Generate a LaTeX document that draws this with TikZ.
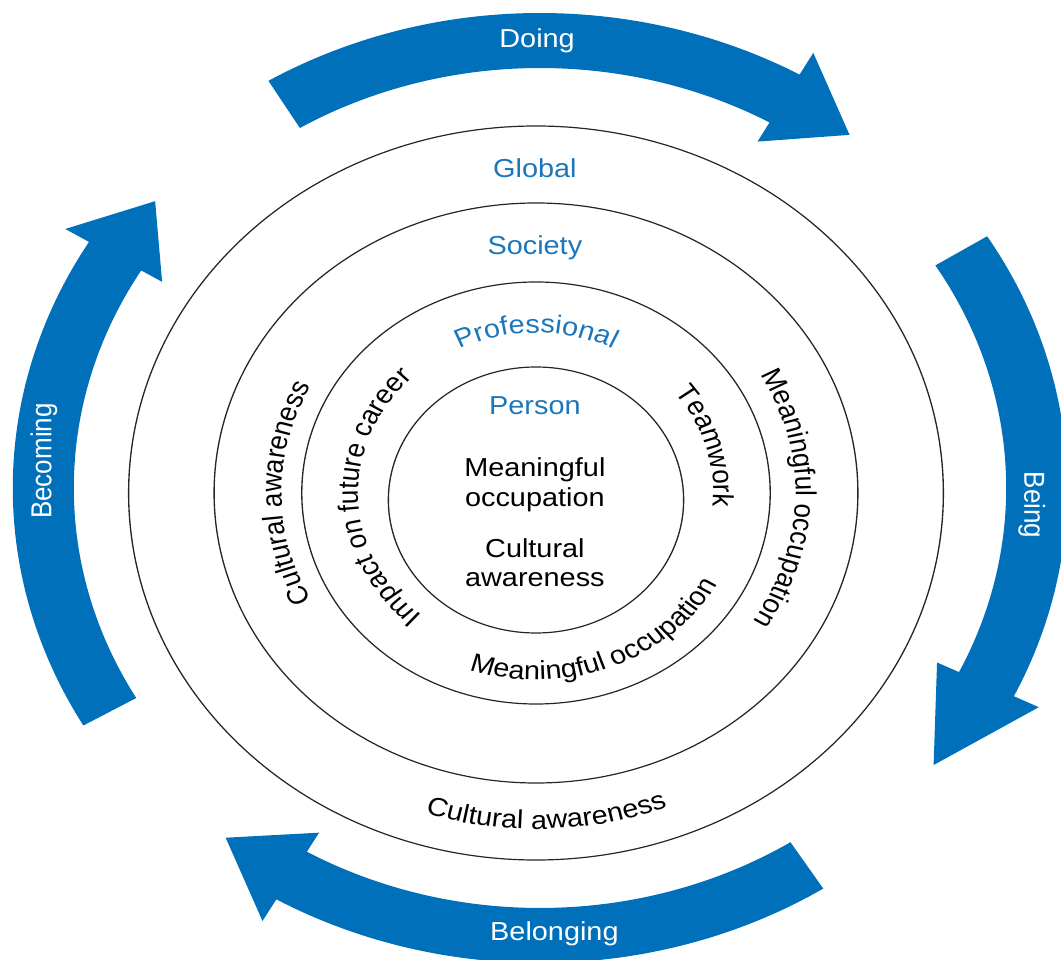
\documentclass[tikz,border=0pt]{standalone}
\usepackage{fontspec}
\setmainfont{Liberation Sans}
\usetikzlibrary{decorations.text}

\definecolor{bandblue}{RGB}{0,112,186}
\definecolor{ringblue}{RGB}{28,118,186}
\newcommand\labelsize{\fontsize{26}{30}\selectfont}

\begin{document}
\begin{tikzpicture}[x=1pt,y=1pt,
  ring/.style={draw=black!85, line width=1.2pt},
  band/.style={fill=bandblue},
  bandlabel/.style={text=white, font=\labelsize, inner sep=0pt},
  levellabel/.style={text=ringblue, font=\labelsize, inner sep=0pt},
  plainlabel/.style={text=black, font=\labelsize, inner sep=0pt},
  curved/.style={decorate, decoration={text along path, text align=center, text={#1}}}
]
\useasboundingbox (-536,-467) rectangle (525,493);
\clip (-536,-467) rectangle (525,493);

\begin{scope}[transform canvas={xscale=1.11}]
  % concentric levels
  \draw[ring] (0,0) circle[radius=367];
  \draw[ring] (0,0) circle[radius=290];
  \draw[ring] (0,0) circle[radius=211];
  \draw[ring] (0,-7) circle[radius=133];

  % four curved cycle arrows: tail angle / head base angle / tip angle
  \begin{scope}[shift={(3.6,5)}]
    \foreach \t/\b/\p in {121/60.5/51.7, 32/-26/-38, -57.5/-120/-129, 210/148.8/140.4}{
      \fill[band] (\t:475) arc[start angle=\t, end angle=\b, radius=475]
        -- (\b:500) -- (\p:450) -- (\b:398) -- (\b:420)
        arc[start angle=\b, end angle=\t, radius=420] -- cycle;
    }
    \node[bandlabel, anchor=base] (doing) at (-2.6,440) {Doing};
    \node[bandlabel, rotate=-90] (being) at (443,-17) {Being};
    \node[bandlabel, anchor=base] (belonging) at (13,-453) {Belonging};
    \node[bandlabel, rotate=90] (becoming) at (-447,27) {Becoming};
  \end{scope}

  % level names
  \node[levellabel, anchor=base] (global) at (-1,315) {Global};
  \node[levellabel, anchor=base] (society) at (-1,238) {Society};
  \node[levellabel, anchor=base] (person) at (-1,78) {Person};
  \path[curved={|\labelsize\color{ringblue}|Professional}]
    (150:160) arc[start angle=150, end angle=30, radius=160];

  % person
  \node[plainlabel, anchor=base] (po1) at (-1,16) {Meaningful};
  \node[plainlabel, anchor=base] (po2) at (-1,-14) {occupation};
  \node[plainlabel, anchor=base] (pc1) at (-1,-65) {Cultural};
  \node[plainlabel, anchor=base] (pc2) at (-1,-94) {awareness};

  % professional ring
  \path[curved={|\labelsize|Impact on future career}]
    (252:160) arc[start angle=252, end angle=112, radius=160];
  \path[curved={|\labelsize|Teamwork}]
    (77:160) arc[start angle=77, end angle=-43, radius=160];
  \path[curved={|\labelsize|Meaningful occupation}]
    (221:187) arc[start angle=221, end angle=361, radius=187];

  % society ring
  \path[curved={|\labelsize|Cultural awareness}]
    (240:229) arc[start angle=240, end angle=120, radius=229];
  \path[curved={|\labelsize|Meaningful occupation}]
    (58.5:234) arc[start angle=58.5, end angle=-61.5, radius=234];

  % global ring
  \path[curved={|\labelsize|Cultural awareness}]
    (221.7:336) arc[start angle=221.7, end angle=321.7, radius=336];
\end{scope}
\end{tikzpicture}
\end{document}
